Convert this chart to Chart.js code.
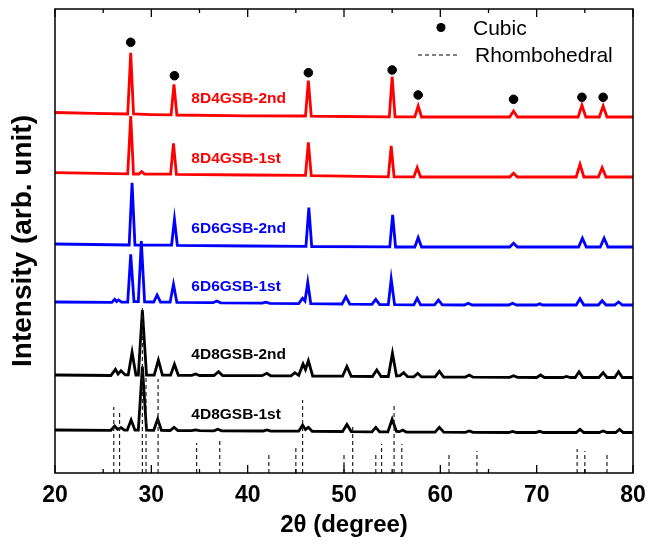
<!DOCTYPE html>
<html>
<head>
<meta charset="utf-8">
<script src="https://cdn.jsdelivr.net/npm/chart.js@4"></script>
<style>
  html, body { margin: 0; padding: 0; background: #fff; }
  #wrap { width: 648px; height: 547px; }
</style>
</head>
<body>
<div id="wrap"><canvas id="xrdChart" width="648" height="547"></canvas></div>
<script>
// samples, top to bottom
const sampleNames = ["8D4GSB-2nd", "8D4GSB-1st", "6D6GSB-2nd", "6D6GSB-1st", "4D8GSB-2nd", "4D8GSB-1st"];
const sampleColors = ["#ff0000", "#ff0000", "#0000ff", "#0000ff", "#000000", "#000000"];
// vertical stacking of the patterns (arb. units)
const sampleOffsets = [356, 296, 226, 168, 95.5, 40.5];

// [2theta, intensity]
const pat8D4_2nd = [[20,4.5],[24,3.6],[27.55,3],[27.86,64.3],[28.15,3],[30,2.4],[32.05,2.1],[32.35,32.7],[32.65,2],[40,1.2],[46.0,1],[46.3,36.3],[46.6,0.9],[50,0.5],[54.7,0.2],[55.0,40.3],[55.3,0.2],[57.35,0.1],[57.7,11],[58.05,0],[67.2,0],[67.6,6],[68.0,0],[74.3,0],[74.7,11.7],[75.1,0],[76.5,0],[76.9,11],[77.3,0],[80,0]];
const pat8D4_1st = [[20,4.3],[27.55,3.1],[27.86,61],[28.15,3],[28.7,3],[29.0,5.5],[29.3,3],[32.0,2.8],[32.3,33.7],[32.6,2.6],[40,2],[46.0,1.6],[46.3,34.7],[46.6,1.4],[50,0.8],[54.6,0.2],[54.9,31],[55.2,0.2],[57.25,0.1],[57.6,9.3],[57.95,0],[67.2,0],[67.6,3.7],[68.0,0],[74.1,0],[74.5,12.7],[74.9,0],[76.4,0],[76.8,9.3],[77.2,0],[80,0]];
const pat6D6_2nd = [[20,3],[27.7,2],[28.0,64.3],[28.3,2],[32.1,1.8],[32.4,27.7],[32.7,1.6],[40,1],[46.05,0.6],[46.35,39.3],[46.65,0.5],[54.75,0.1],[55.05,32],[55.35,0],[57.35,0],[57.7,9.3],[58.05,0],[67.2,0],[67.6,3.7],[68.0,0],[74.35,0],[74.75,8.7],[75.15,0],[76.6,0],[77.0,8.7],[77.4,0],[80,0]];
const pat6D6_1st = [[20,3],[25.9,2.6],[26.2,5.7],[26.4,3.5],[26.6,5],[26.9,2.8],[27.55,2.8],[27.86,50.7],[28.2,3.3],[28.65,3.3],[28.96,64],[29.3,3.2],[30.25,3],[30.6,10],[30.95,2.9],[31.95,2.8],[32.3,20.7],[32.65,2.6],[36.4,2.3],[36.8,4],[37.2,2.2],[41.5,1.8],[41.9,2.8],[42.3,1.7],[45.3,1.4],[45.7,6.7],[45.95,4],[46.24,22.7],[46.55,1.3],[49.8,1],[50.2,8.3],[50.6,0.9],[52.9,0.6],[53.3,5.7],[53.7,0.5],[54.6,0.4],[54.9,26],[55.25,0.4],[57.25,0.2],[57.6,6.7],[57.95,0.2],[59.4,0.2],[59.8,5],[60.2,0.1],[62.5,0],[62.9,1.7],[63.3,0],[67.1,0],[67.5,1.7],[67.9,0],[70.0,0],[70.3,1.2],[70.6,0],[74.1,0],[74.5,6.3],[74.9,0],[76.4,0],[76.8,4.3],[77.2,0],[78.1,0],[78.5,3],[78.9,0],[80,0]];
const pat4D8_2nd = [[20,2.5],[25.8,2],[26.27,8.2],[26.55,3.5],[26.85,6.8],[27.3,2.6],[27.6,2.6],[28.0,25.2],[28.4,2.5],[28.65,2.5],[29.07,67.5],[29.5,2.5],[30.3,2.4],[30.73,17.5],[31.15,2.3],[32.0,2.3],[32.4,13.2],[32.8,2.2],[34.2,2.1],[34.6,3.5],[35.0,2],[36.5,2],[36.97,5.8],[37.4,1.9],[41.5,1.8],[41.98,4.2],[42.4,1.7],[44.5,1.6],[44.9,4.8],[45.3,2.2],[45.75,13.5],[46.0,8],[46.3,16.8],[46.75,1.5],[49.85,1.3],[50.3,11],[50.75,1.2],[52.95,1],[53.4,7.5],[53.85,1],[54.6,1],[55.03,24.2],[55.45,1.5],[55.8,1.8],[56.2,4.8],[56.6,0.8],[57.25,0.7],[57.66,4.2],[58.05,0.6],[59.45,0.6],[59.9,6.2],[60.35,0.5],[62.6,0.4],[63.0,2.5],[63.4,0.3],[67.2,0.2],[67.6,1.8],[68.0,0.1],[70.0,0],[70.4,2.5],[70.8,0],[72.7,0],[73.1,1],[73.5,0],[74.0,0],[74.4,5.8],[74.8,0],[76.45,0],[76.9,4.8],[77.3,0],[78.1,0],[78.5,5.8],[78.9,0],[80,0]];
const pat4D8_1st = [[20,2.5],[25.8,2.2],[26.2,6.5],[26.5,3.2],[26.85,4.8],[27.2,2.3],[27.5,2.3],[27.9,12.5],[28.3,2.3],[28.65,2.3],[29.07,66],[29.5,2.3],[30.25,2.2],[30.66,13.5],[31.05,2.1],[31.95,2],[32.36,5.2],[32.75,1.9],[34.2,1.8],[34.6,2.6],[35.0,1.8],[36.5,1.7],[36.9,3.2],[37.3,1.6],[41.6,1.5],[42.0,2.5],[42.4,1.4],[45.3,1.3],[45.7,7.5],[46.0,3],[46.3,5.2],[46.7,1.2],[49.85,1],[50.3,8],[50.75,0.9],[52.9,0.7],[53.3,5.2],[53.7,0.6],[54.55,0.6],[55.0,13.2],[55.45,1],[55.75,0.8],[56.1,2.5],[56.45,0.5],[59.45,0.4],[59.9,5.2],[60.35,0.3],[62.6,0.2],[63.0,1.5],[63.4,0.1],[67.1,0],[67.5,1],[67.9,0],[69.9,0],[70.3,1.2],[70.7,0],[74.1,0],[74.5,3.2],[74.9,0],[76.5,0],[76.9,1.5],[77.3,0],[78.2,0],[78.6,3.2],[79.0,0],[80,0]];
const patterns = [pat8D4_2nd, pat8D4_1st, pat6D6_2nd, pat6D6_1st, pat4D8_2nd, pat4D8_1st];

// cubic reflections (dots above top pattern)
const cubicPos = [27.86, 32.4, 46.3, 55.0, 57.7, 67.6, 74.7, 76.9];
const cubicLevel = [430.7, 397.3, 400.3, 403, 378, 373.7, 375.7, 375.7];

// rhombohedral reference sticks (dashed)
const rhomboPos = [26.1, 26.7, 29.07, 29.45, 30.7, 34.7, 37.1, 42.2, 45.0, 45.7, 50.0, 50.9, 53.3, 53.9, 55.2, 56.0, 60.9, 63.8, 74.2, 75.0, 77.3];
const rhomboHeight = [66, 63, 167, 95, 94, 30, 33, 21, 25, 73, 21, 46, 21, 29, 67, 29, 19, 22, 24, 22, 18];

const xTicks = [20, 30, 40, 50, 60, 70, 80];

const FONT = "'Liberation Sans', Arial, Helvetica, sans-serif";

// build datasets
const datasets = [];

const stickData = [];
rhomboPos.forEach((p, i) => {
    stickData.push({ x: p, y: 0 });
    stickData.push({ x: p, y: rhomboHeight[i] });
    stickData.push({ x: p, y: null });
});
datasets.push({
    label: "Rhombohedral",
    data: stickData,
    borderColor: "#222",
    borderWidth: 1.2,
    borderDash: [4, 3],
    pointRadius: 0,
    spanGaps: false,
    fill: false
});

patterns.forEach((pat, i) => {
    datasets.push({
        label: sampleNames[i],
        data: pat.map(p => ({ x: p[0], y: p[1] + sampleOffsets[i] })),
        borderColor: sampleColors[i],
        borderWidth: 2.8,
        pointRadius: 0,
        tension: 0,
        fill: false
    });
});

datasets.push({
    label: "Cubic",
    type: "scatter",
    data: cubicPos.map((p, i) => ({ x: p, y: cubicLevel[i] })),
    backgroundColor: "#000",
    borderColor: "#000",
    pointRadius: 4.3,
    showLine: false
});

// frame, inward ticks, sample names and key
const decorPlugin = {
    id: "decor",
    afterDatasetsDraw(chart) {
        const { ctx, chartArea: a, scales: { x, y } } = chart;
        ctx.save();

        // sample labels
        ctx.font = "bold 15.5px " + FONT;
        ctx.textAlign = "left";
        ctx.textBaseline = "middle";
        sampleNames.forEach((name, i) => {
            ctx.fillStyle = sampleColors[i];
            const lift = i === 4 ? 22.5 : 18;
            ctx.fillText(name, x.getPixelForValue(34.15), y.getPixelForValue(sampleOffsets[i] + lift));
        });

        // frame
        ctx.strokeStyle = "#000";
        ctx.lineWidth = 1.5;
        ctx.strokeRect(a.left, a.top, a.right - a.left, a.bottom - a.top);

        // inward ticks top and bottom
        ctx.lineWidth = 1.3;
        for (let v = 20; v <= 80; v += 5) {
            const px = x.getPixelForValue(v);
            const len = v % 10 === 0 ? 8 : 4;
            ctx.beginPath();
            ctx.moveTo(px, a.bottom);
            ctx.lineTo(px, a.bottom - len);
            ctx.moveTo(px, a.top);
            ctx.lineTo(px, a.top + len);
            ctx.stroke();
        }

        // key
        ctx.fillStyle = "#000";
        ctx.beginPath();
        ctx.arc(441, 27.5, 4.5, 0, Math.PI * 2);
        ctx.fill();
        ctx.lineWidth = 1.2;
        ctx.setLineDash([4, 3]);
        ctx.beginPath();
        ctx.moveTo(418, 55);
        ctx.lineTo(460, 55);
        ctx.stroke();
        ctx.setLineDash([]);
        ctx.font = "21px " + FONT;
        ctx.textAlign = "left";
        ctx.textBaseline = "middle";
        ctx.fillText("Cubic", 473, 29);
        ctx.fillText("Rhombohedral", 475, 56);

        ctx.restore();
    }
};

new Chart(document.getElementById("xrdChart").getContext("2d"), {
    type: "line",
    data: { datasets: datasets },
    options: {
        responsive: false,
        animation: false,
        layout: { padding: { top: 9, right: 15, left: 0, bottom: 0 } },
        plugins: { legend: { display: false }, tooltip: { enabled: false } },
        scales: {
            x: {
                type: "linear",
                min: 20,
                max: 80,
                afterFit(scale) {
                    scale.height = 74;
                    scale.paddingLeft = 0;
                    scale.paddingRight = 0;
                },
                afterBuildTicks(scale) { scale.ticks = xTicks.map(v => ({ value: v })); },
                grid: { display: false, drawTicks: false },
                border: { display: false },
                ticks: {
                    padding: 9,
                    color: "#000",
                    font: { family: FONT, size: 23, weight: "bold" }
                },
                title: {
                    display: true,
                    text: "2θ (degree)",
                    color: "#000",
                    padding: { top: 0, bottom: 7 },
                    font: { family: FONT, size: 24, weight: "bold" }
                }
            },
            y: {
                min: 0,
                max: 464,
                afterFit(scale) { scale.width = 55; },
                grid: { display: false, drawTicks: false },
                border: { display: false },
                ticks: { display: false },
                title: {
                    display: true,
                    text: "Intensity (arb. unit)",
                    color: "#000",
                    padding: { top: 6, bottom: 0 },
                    font: { family: FONT, size: 28, weight: "bold" }
                }
            }
        }
    },
    plugins: [decorPlugin]
});
</script>
</body>
</html>
